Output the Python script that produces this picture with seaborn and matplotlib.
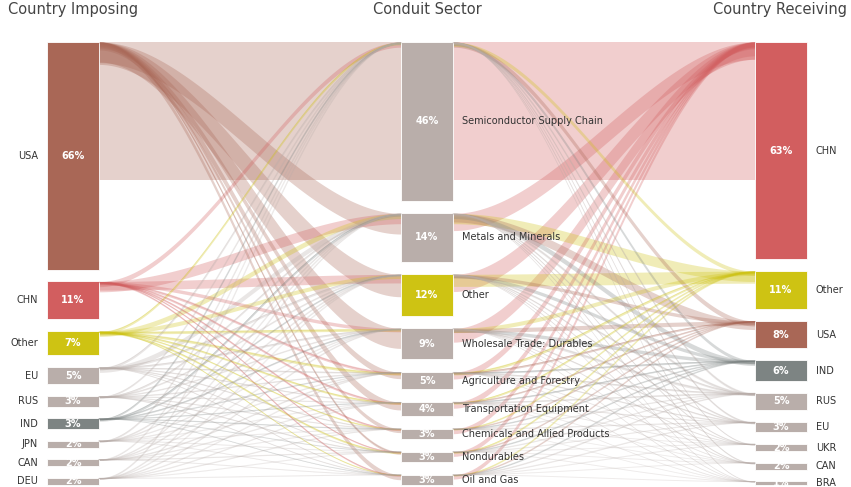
import numpy as np
import matplotlib.pyplot as plt
import seaborn as sns

# node shares (%) per column
imposing = ["USA", "CHN", "Other", "EU", "RUS", "IND", "JPN", "CAN", "DEU"]
imposing_pct = [66, 11, 7, 5, 3, 3, 2, 2, 2]

sectors = ["Semiconductor Supply Chain", "Metals and Minerals", "Other",
           "Wholesale Trade: Durables", "Agriculture and Forestry",
           "Transportation Equipment", "Chemicals and Allied Products",
           "Nondurables", "Oil and Gas"]
sector_pct = [46, 14, 12, 9, 5, 4, 3, 3, 3]

receiving = ["CHN", "Other", "USA", "IND", "RUS", "EU", "UKR", "CAN", "BRA"]
receiving_pct = [63, 11, 8, 6, 5, 3, 2, 2, 1]

# flows (%), rows = imposing country, cols = sector
imp_to_sector = [
    [40.0, 6.0, 6.5, 5.8, 1.9, 2.3, 1.2, 0.8, 1.5],
    [1.5, 3.0, 2.5, 1.0, 0.8, 0.7, 0.6, 0.4, 0.5],
    [0.8, 1.5, 1.2, 0.8, 0.8, 0.6, 0.4, 0.6, 0.3],
    [0.8, 1.5, 0.7, 0.6, 0.4, 0.3, 0.3, 0.2, 0.2],
    [0.5, 0.6, 0.4, 0.3, 0.3, 0.2, 0.2, 0.3, 0.2],
    [0.6, 0.8, 0.4, 0.4, 0.2, 0.2, 0.2, 0.1, 0.1],
    [0.5, 0.4, 0.3, 0.2, 0.2, 0.1, 0.1, 0.1, 0.1],
    [0.3, 0.3, 0.3, 0.2, 0.3, 0.2, 0.1, 0.2, 0.1],
    [0.4, 0.3, 0.2, 0.3, 0.2, 0.2, 0.2, 0.1, 0.1],
]

# flows (%), rows = sector, cols = receiving country
sector_to_rec = [
    [40.0, 1.2, 1.5, 1.0, 0.8, 0.6, 0.3, 0.4, 0.2],
    [5.0, 3.0, 2.5, 1.5, 0.8, 0.5, 0.3, 0.3, 0.1],
    [5.0, 3.5, 1.0, 1.0, 0.6, 0.4, 0.2, 0.2, 0.1],
    [4.0, 1.2, 1.2, 1.0, 0.8, 0.4, 0.2, 0.1, 0.1],
    [2.0, 0.8, 0.6, 0.5, 0.5, 0.3, 0.1, 0.1, 0.1],
    [1.8, 0.6, 0.4, 0.4, 0.4, 0.2, 0.1, 0.05, 0.05],
    [1.5, 0.4, 0.3, 0.3, 0.2, 0.2, 0.05, 0.03, 0.02],
    [1.4, 0.5, 0.3, 0.3, 0.2, 0.15, 0.05, 0.05, 0.05],
    [1.3, 0.4, 0.3, 0.3, 0.3, 0.2, 0.1, 0.05, 0.05],
]

sns.set_theme(style="white")

GREY = "#b9aeaa"
country_colors = {"USA": "#a96756", "CHN": "#d25e5f", "Other": "#cec313",
                  "IND": "#7d8483"}
sector_colors = {"Other": "#cec313"}

SPAN = 128.4          # column height in % units, including gaps
NODE_W = 52
X_LEFT, X_MID, X_RIGHT = 47, 401, 755


def stack(values):
    gap = (SPAN - sum(values)) / (len(values) - 1)
    tops, y = [], 0.0
    for v in values:
        tops.append(y)
        y += v + gap
    return tops


def band(ax, x0, x1, y0, y1, w, color):
    xs = np.linspace(x0, x1, 80)
    u = (xs - x0) / (x1 - x0)
    s = u * u * (3 - 2 * u)
    top = y0 + (y1 - y0) * s
    ax.fill_between(xs, top, top + w, color=color, alpha=0.3, lw=0)
    if w < 1:
        # hairline so very thin flows stay visible
        ax.plot(xs, top + w / 2, color=color, alpha=0.25, lw=0.5)


fig = plt.figure(figsize=(8.51, 4.87), dpi=100)
ax = fig.add_axes([0, 0, 1, 1])
ax.set_xlim(0, 851)
ax.set_ylim(129.0, -12.17)
ax.axis("off")

imp_top = stack(imposing_pct)
sec_top = stack(sector_pct)
rec_top = stack(receiving_pct)

# left -> middle, coloured by imposing country
flows = []
for i, row in enumerate(imp_to_sector):
    for j, v in enumerate(row):
        flows.append((v, X_LEFT + NODE_W, X_MID, imp_top[i], sec_top[j],
                      country_colors.get(imposing[i], GREY)))
# middle -> right, coloured by receiving country
for i, row in enumerate(sector_to_rec):
    for j, v in enumerate(row):
        flows.append((v, X_MID + NODE_W, X_RIGHT, sec_top[i], rec_top[j],
                      country_colors.get(receiving[j], GREY)))
for v, x0, x1, y0, y1, c in sorted(flows, key=lambda f: -f[0]):
    band(ax, x0, x1, y0, y1, v, c)


def nodes(x, names, pct, tops, colors, label_side):
    for name, v, t in zip(names, pct, tops):
        ax.bar(x + NODE_W / 2, v, bottom=t, width=NODE_W,
               color=colors.get(name, GREY), edgecolor="white", lw=0.6)
        ax.text(x + NODE_W / 2, t + v / 2, f"{v}%", ha="center", va="center",
                color="white", fontsize=7, fontweight="bold")
        if label_side == "left":
            ax.text(x - 9, t + v / 2, name, ha="right", va="center",
                    color="#333333", fontsize=7)
        else:
            ax.text(x + NODE_W + 9, t + v / 2, name, ha="left", va="center",
                    color="#333333", fontsize=7)


nodes(X_LEFT, imposing, imposing_pct, imp_top, country_colors, "left")
nodes(X_MID, sectors, sector_pct, sec_top, sector_colors, "right")
nodes(X_RIGHT, receiving, receiving_pct, rec_top, country_colors, "right")

title_kw = dict(color="#444444", fontsize=10.5, va="center")
ax.text(8, -9.3, "Country Imposing", ha="left", **title_kw)
ax.text(427, -9.3, "Conduit Sector", ha="center", **title_kw)
ax.text(847, -9.3, "Country Receiving", ha="right", **title_kw)

fig.savefig("out.png", dpi=100)
